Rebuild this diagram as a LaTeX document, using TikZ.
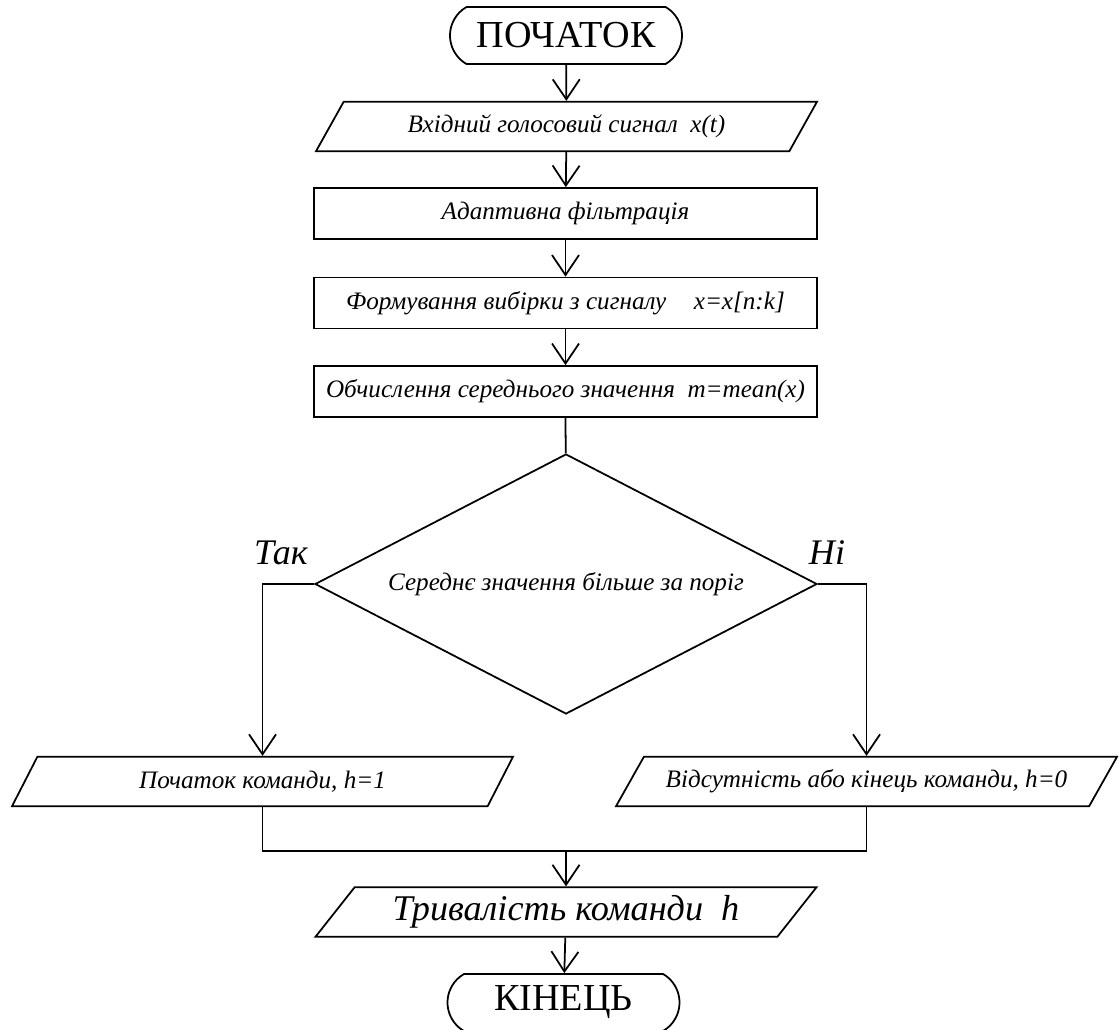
\documentclass[tikz,border=0pt]{standalone}
\usepackage{fontspec}
\setmainfont{Liberation Serif}
\usetikzlibrary{shapes.geometric,shapes.misc,arrows.meta}

\newcommand{\tekst}{\itshape\fontsize{14.3}{17}\selectfont}

\tikzset{
  lin/.style={line width=1pt},
  strilka/.style={lin, -{Straight Barb[length=0.4cm,width=0.54cm]}},
  kray/.style={rounded rectangle, rounded rectangle arc length=120, draw, lin,
    minimum width=4.64cm, minimum height=1.14cm, inner sep=0pt,
    font=\fontsize{21.7}{25}\selectfont},
  blok/.style={rectangle, draw, lin, minimum width=10.06cm, minimum height=1.02cm,
    inner sep=0pt, font=\tekst},
  dani/.style={trapezium, trapezium left angle=40, trapezium right angle=140,
    trapezium stretches body=true, draw, lin, minimum width=10.02cm,
    minimum height=0.99cm, inner sep=0pt, font=\tekst},
  rishennya/.style={diamond, draw, lin, aspect=2.3, minimum width=10.04cm,
    minimum height=5.2cm, inner sep=0pt, font=\tekst},
  mitka/.style={anchor=base, font=\itshape\fontsize{20.5}{24}\selectfont}
}

\begin{document}
\begin{tikzpicture}

\useasboundingbox (0,0) rectangle (22.4,-20.58);

% top part
\node[kray] (start) at (11.32,-0.71) {ПОЧАТОК};
\node[dani] (vhid) at (11.33,-2.53) {Вхідний голосовий сигнал\ \ x(t)};
\node[blok] (filtr) at (11.31,-4.27) {Адаптивна фільтрація};
\node[blok] (vybirka) at (11.31,-6.06)
    {Формування вибірки з сигналу\hspace{0.55cm}x=x[n:k]};
\node[blok] (serednie) at (11.31,-7.83)
    {Обчислення середнього значення\ \ m=mean(x)};

\draw[strilka] (start) -- (vhid);
\draw[strilka] (vhid) -- (filtr);
\draw[strilka] (filtr) -- (vybirka);
\draw[strilka] (vybirka) -- (serednie);

% decision
\node[rishennya] (umova) at (11.32,-11.68) {Середнє значення більше за поріг};
\draw[lin] (serednie) -- (umova);
\node[mitka] (tak) at (5.62,-11.28) {Так};
\node[mitka] (ni) at (16.54,-11.28) {Ні};

% branches
\node[dani] (pochatok) at (5.25,-15.63) {Початок команди, h=1};
\node[dani] (vidsut) at (17.33,-15.63) {Відсутність або кінець команди, h=0};
\draw[strilka] (umova.west) -| (pochatok.north);
\draw[strilka] (umova.east) -| (vidsut.north);

% merge
\coordinate (zlyv) at (11.32,-17.02);
\draw[lin] (pochatok.south) |- (zlyv) -| (vidsut.south);

% bottom part
\node[dani, font=\itshape\fontsize{20.6}{24}\selectfont] (tryval) at (11.32,-18.24)
    {Тривалість команди\ \ h};
\node[kray] (kinec) at (11.27,-20.05) {КІНЕЦЬ};
\draw[strilka] (zlyv) -- (tryval);
\draw[strilka] (tryval) -- (kinec);

\end{tikzpicture}
\end{document}
